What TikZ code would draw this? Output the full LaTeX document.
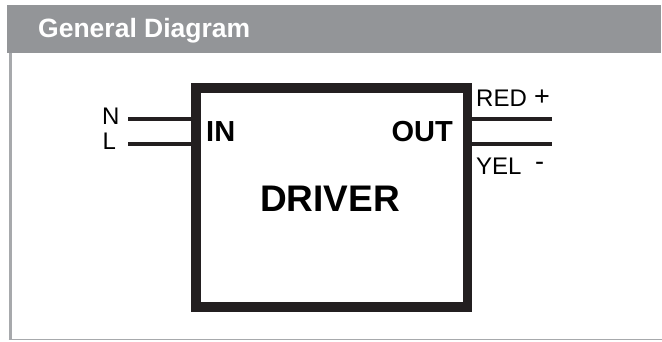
\documentclass[tikz,border=0pt]{standalone}
\usepackage{fontspec}
\setmainfont{Liberation Sans}
\definecolor{hdr}{HTML}{939598}
\definecolor{frm}{HTML}{A7A9AC}
\definecolor{ink}{HTML}{231F20}
\begin{document}
\begin{tikzpicture}[x=1pt,y=-1pt,
  wire/.style={draw=ink,line width=4.5pt},
  lbl/.style={inner sep=0pt,font=\fontsize{24}{24}\selectfont},
  sgn/.style={inner sep=0pt,font=\fontsize{27}{27}\selectfont},
  port/.style={inner sep=0pt,font=\fontsize{29}{29}\selectfont\bfseries}]
\useasboundingbox (0,0) rectangle (662,341);
% header and frame
\fill[hdr] (7,5) rectangle (661,53);
\node[anchor=base west,inner sep=0pt,text=white,font=\fontsize{26.5}{26.5}\selectfont\bfseries] (title) at (38,37) {General Diagram};
\draw[frm,line width=3pt] (10,53) -- (10,339.5);
\draw[frm,line width=1.5pt] (8.5,339.5) -- (662,339.5);
% driver box
\node[draw=ink,line width=9.5pt,minimum width=271.5pt,minimum height=219pt,inner sep=0pt] (drv) at (331.75,197.5) {};
\node[inner sep=0pt,font=\fontsize{37}{37}\selectfont\bfseries] (drvt) at (330,199) {DRIVER};
\node[port,anchor=west] (in) at (206,132) {IN};
\node[port,anchor=east] (out) at (453,132) {OUT};
% input wires
\coordinate (nw) at (128,119);
\coordinate (lw) at (128,144);
\draw[wire] (nw) -- (nw -| drv.west);
\draw[wire] (lw) -- (lw -| drv.west);
\node[lbl,anchor=west] (n) at (102,116) {N};
\node[lbl,anchor=west] (l) at (102.5,141) {L};
% output wires
\coordinate (rw) at (552,119);
\coordinate (yw) at (552,144);
\draw[wire] (rw -| drv.east) -- (rw);
\draw[wire] (yw -| drv.east) -- (yw);
\node[lbl,anchor=west] (red) at (476,98) {RED};
\node[sgn,anchor=west] (plus) at (534,98) {+};
\node[sgn,anchor=west] (minus) at (535,166) {-};
\node[lbl,anchor=west] (yel) at (476,166) {YEL};
\end{tikzpicture}
\end{document}
